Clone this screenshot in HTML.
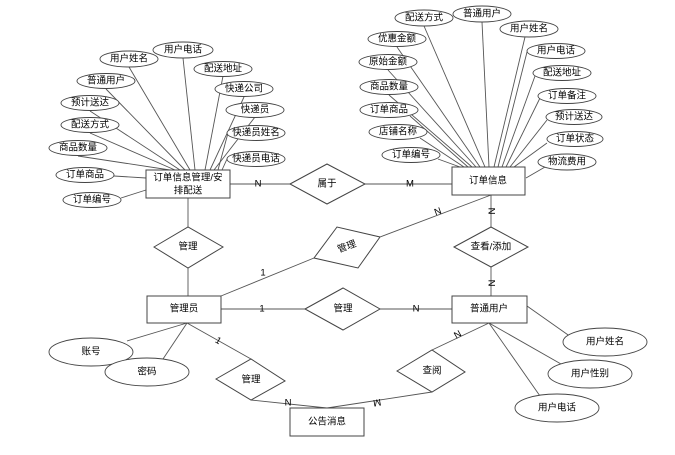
<!DOCTYPE html>
<html><head><meta charset="utf-8"><style>
html,body{margin:0;padding:0;background:#fff;}
svg{display:block;font-family:"Liberation Sans","Noto Sans CJK SC",sans-serif;}
text{font-size:9.5px;fill:#000;text-anchor:middle;dominant-baseline:central;}
.e{fill:#fff;stroke:#444;stroke-width:0.9;}
.b{fill:#fff;stroke:#444;stroke-width:1;}
line,polyline{stroke:#555;stroke-width:0.9;fill:none;}
</style></head><body>
<svg width="675" height="455" viewBox="0 0 675 455" xmlns="http://www.w3.org/2000/svg">
<!-- lines left cluster -->
<g>
<line x1="183" y1="58" x2="195" y2="170"/>
<line x1="129" y1="67" x2="190" y2="170"/>
<line x1="223" y1="76" x2="205" y2="170"/>
<line x1="106" y1="89" x2="185" y2="170"/>
<line x1="244" y1="97" x2="210" y2="170"/>
<line x1="90" y1="111" x2="180" y2="170"/>
<line x1="255" y1="117" x2="214" y2="170"/>
<line x1="90" y1="133" x2="175" y2="170"/>
<line x1="228" y1="133" x2="218" y2="170"/>
<line x1="78" y1="156" x2="170" y2="170"/>
<line x1="227" y1="159" x2="222" y2="170"/>
<line x1="114" y1="176" x2="146" y2="178"/>
<line x1="121" y1="198" x2="146" y2="190"/>
</g>
<!-- lines right cluster -->
<g>
<line x1="424" y1="26" x2="485" y2="167"/>
<line x1="482" y1="22" x2="489" y2="167"/>
<line x1="525" y1="37" x2="494" y2="167"/>
<line x1="397" y1="47" x2="480" y2="167"/>
<line x1="527" y1="52" x2="498" y2="167"/>
<line x1="388" y1="70" x2="476" y2="167"/>
<line x1="535" y1="76" x2="502" y2="167"/>
<line x1="389" y1="95" x2="472" y2="167"/>
<line x1="540" y1="98" x2="506" y2="167"/>
<line x1="410" y1="116" x2="468" y2="167"/>
<line x1="547" y1="120" x2="510" y2="167"/>
<line x1="420" y1="138" x2="464" y2="167"/>
<line x1="547" y1="143" x2="514" y2="167"/>
<line x1="438" y1="159" x2="460" y2="167"/>
<line x1="545" y1="167" x2="526" y2="178"/>
</g>
<!-- relationship lines -->
<line x1="230" y1="184" x2="290" y2="184"/>
<line x1="365" y1="184" x2="452" y2="184"/>
<line x1="188" y1="198" x2="188" y2="227"/>
<line x1="188" y1="268" x2="188" y2="296"/>
<line x1="491" y1="195" x2="491" y2="227"/>
<line x1="491" y1="267" x2="491" y2="296"/>
<line x1="221" y1="296" x2="314" y2="258"/>
<line x1="380" y1="237" x2="491" y2="195"/>
<line x1="221" y1="309" x2="305" y2="309"/>
<line x1="380" y1="309" x2="452" y2="309"/>
<line x1="187" y1="323" x2="251" y2="359"/>
<line x1="251" y1="400" x2="327" y2="408"/>
<line x1="489" y1="323" x2="432" y2="350"/>
<line x1="432" y1="392" x2="327" y2="408"/>
<line x1="187" y1="323" x2="127" y2="341"/>
<line x1="187" y1="323" x2="163" y2="359"/>
<line x1="527" y1="306" x2="571" y2="337"/>
<line x1="489" y1="323" x2="561" y2="364"/>
<line x1="489" y1="323" x2="540" y2="396"/>
<!-- diamonds -->
<polygon class="b" points="290,184 327,164 365,184 327,204"/>
<text x="327" y="184">属于</text>
<polygon class="b" points="154,247 188,227 223,247 188,268"/>
<text x="188" y="247">管理</text>
<polygon class="b" points="314,258 337,227 380,237 358,268"/>
<text x="347" y="247" transform="rotate(-20 347 247)">管理</text>
<polygon class="b" points="454,247 491,227 528,247 491,267"/>
<text x="491" y="247">查看/添加</text>
<polygon class="b" points="305,309 343,288 380,309 343,330"/>
<text x="343" y="309">管理</text>
<polygon class="b" points="216,379 251,359 285,381 251,400"/>
<text x="251" y="380">管理</text>
<polygon class="b" points="397,371 432,350 465,372 432,392"/>
<text x="432" y="371">查阅</text>
<!-- entities -->
<rect class="b" x="146" y="170" width="84" height="28"/>
<text x="188" y="178">订单信息管理/安</text>
<text x="188" y="191">排配送</text>
<rect class="b" x="452" y="167" width="73" height="28"/>
<text x="488" y="181">订单信息</text>
<rect class="b" x="147" y="296" width="74" height="27"/>
<text x="184" y="309">管理员</text>
<rect class="b" x="452" y="296" width="75" height="27"/>
<text x="489" y="309">普通用户</text>
<rect class="b" x="290" y="408" width="74" height="28"/>
<text x="327" y="422">公告消息</text>
<!-- cardinality -->
<text x="258" y="184">N</text>
<text x="410" y="184">M</text>
<text x="263" y="273">1</text>
<text x="438" y="212" transform="rotate(-20 438 212)">N</text>
<text x="491" y="211" transform="rotate(90 491 211)">N</text>
<text x="491" y="283" transform="rotate(90 491 283)">N</text>
<text x="262" y="309">1</text>
<text x="416" y="309">N</text>
<text x="218" y="341" transform="rotate(30 218 341)">1</text>
<text x="288" y="403">N</text>
<text x="377" y="402" transform="rotate(170 377 402)">M</text>
<text x="458" y="335" transform="rotate(-30 458 335)">N</text>
<!-- left attributes -->
<g>
<ellipse class="e" cx="183" cy="50" rx="30" ry="8"/><text x="183" y="50">用户电话</text>
<ellipse class="e" cx="129" cy="59" rx="29" ry="8"/><text x="129" y="59">用户姓名</text>
<ellipse class="e" cx="223" cy="69" rx="29" ry="7.5"/><text x="223" y="69">配送地址</text>
<ellipse class="e" cx="106" cy="81" rx="29" ry="7.5"/><text x="106" y="81">普通用户</text>
<ellipse class="e" cx="244" cy="89" rx="29" ry="7.5"/><text x="244" y="89">快递公司</text>
<ellipse class="e" cx="90" cy="103" rx="29" ry="7.5"/><text x="90" y="103">预计送达</text>
<ellipse class="e" cx="255" cy="110" rx="29" ry="7.5"/><text x="255" y="110">快递员</text>
<ellipse class="e" cx="90" cy="125" rx="29" ry="7.5"/><text x="90" y="125">配送方式</text>
<ellipse class="e" cx="256" cy="133" rx="29" ry="7.5"/><text x="256" y="133">快递员姓名</text>
<ellipse class="e" cx="78" cy="148" rx="29" ry="7.5"/><text x="78" y="148">商品数量</text>
<ellipse class="e" cx="256" cy="159" rx="29" ry="7.5"/><text x="256" y="159">快递员电话</text>
<ellipse class="e" cx="85" cy="175" rx="29" ry="7.5"/><text x="85" y="175">订单商品</text>
<ellipse class="e" cx="92" cy="200" rx="29" ry="7.5"/><text x="92" y="200">订单编号</text>
</g>
<!-- right attributes -->
<g>
<ellipse class="e" cx="424" cy="18" rx="29" ry="8"/><text x="424" y="18">配送方式</text>
<ellipse class="e" cx="482" cy="14" rx="29" ry="8"/><text x="482" y="14">普通用户</text>
<ellipse class="e" cx="529" cy="29" rx="29" ry="8"/><text x="529" y="29">用户姓名</text>
<ellipse class="e" cx="397" cy="39" rx="29" ry="7.5"/><text x="397" y="39">优惠金额</text>
<ellipse class="e" cx="556" cy="51" rx="29" ry="7.5"/><text x="556" y="51">用户电话</text>
<ellipse class="e" cx="388" cy="62" rx="29" ry="7.5"/><text x="388" y="62">原始金额</text>
<ellipse class="e" cx="562" cy="73" rx="29" ry="7.5"/><text x="562" y="73">配送地址</text>
<ellipse class="e" cx="389" cy="87" rx="29" ry="7.5"/><text x="389" y="87">商品数量</text>
<ellipse class="e" cx="567" cy="96" rx="29" ry="7.5"/><text x="567" y="96">订单备注</text>
<ellipse class="e" cx="389" cy="110" rx="29" ry="7.5"/><text x="389" y="110">订单商品</text>
<ellipse class="e" cx="574" cy="117" rx="28" ry="7.5"/><text x="574" y="117">预计送达</text>
<ellipse class="e" cx="398" cy="132" rx="29" ry="7.5"/><text x="398" y="132">店铺名称</text>
<ellipse class="e" cx="575" cy="139" rx="28" ry="7.5"/><text x="575" y="139">订单状态</text>
<ellipse class="e" cx="411" cy="155" rx="29" ry="7.5"/><text x="411" y="155">订单编号</text>
<ellipse class="e" cx="567" cy="162" rx="29" ry="8"/><text x="567" y="162">物流费用</text>
</g>
<!-- bottom attributes -->
<ellipse class="e" cx="91" cy="352" rx="42" ry="14"/><text x="91" y="352">账号</text>
<ellipse class="e" cx="147" cy="372" rx="42" ry="14"/><text x="147" y="372">密码</text>
<ellipse class="e" cx="605" cy="342" rx="42" ry="14"/><text x="605" y="342">用户姓名</text>
<ellipse class="e" cx="590" cy="374" rx="42" ry="14"/><text x="590" y="374">用户性别</text>
<ellipse class="e" cx="557" cy="408" rx="42" ry="14"/><text x="557" y="408">用户电话</text>
</svg>
</body></html>
